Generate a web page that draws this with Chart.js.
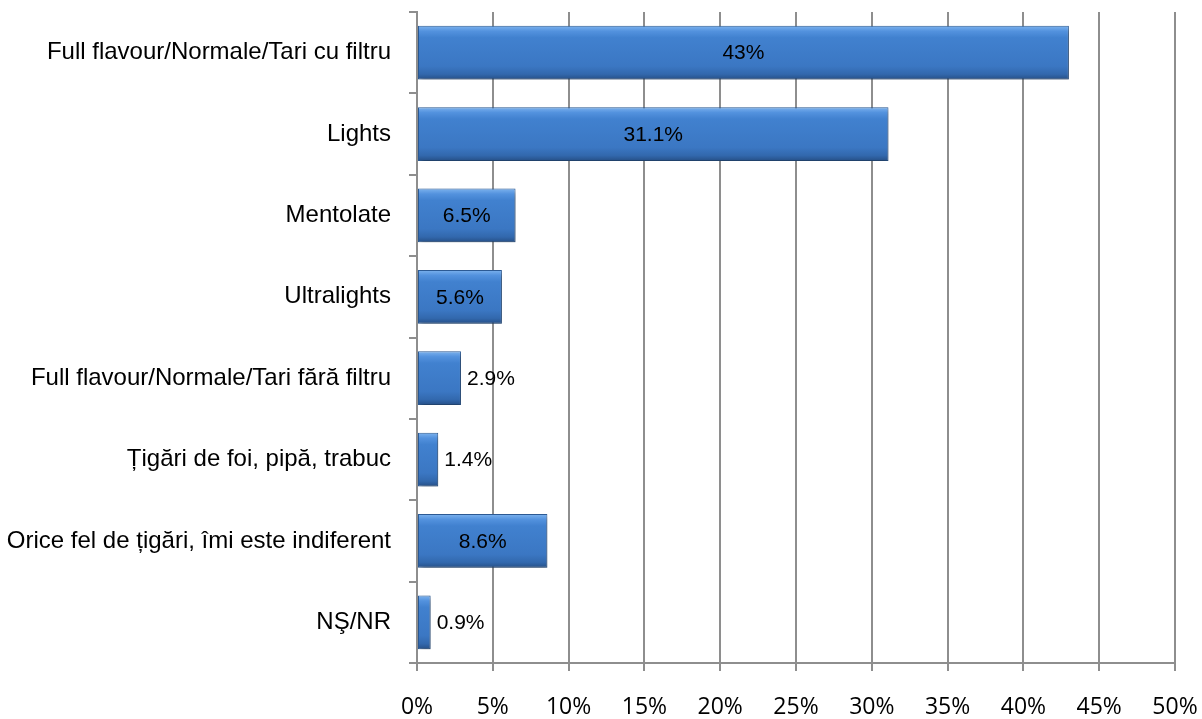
<!DOCTYPE html>
<html>
<head>
<meta charset="utf-8">
<script src="https://cdn.jsdelivr.net/npm/chart.js@4/dist/chart.umd.min.js"></script>
<style>
    html, body { margin:0; padding:0; background:#ffffff; }
    #cutie { width:1202px; height:719px; }
</style>
</head>
<body>
<div id="cutie"><canvas id="grafic"></canvas></div>
<script>

const categorii = [
    "Full flavour/Normale/Tari cu filtru",
    "Lights",
    "Mentolate",
    "Ultralights",
    "Full flavour/Normale/Tari fără filtru",
    "Țigări de foi, pipă, trabuc",
    "Orice fel de țigări, îmi este indiferent",
    "NŞ/NR"
];

const procente = [43, 31.1, 6.5, 5.6, 2.9, 1.4, 8.6, 0.9];

const eticheteValori = ["43%", "31.1%", "6.5%", "5.6%", "2.9%", "1.4%", "8.6%", "0.9%"];

const pragInterior = 5;

const GRI = "#8e8e8e";
const PROCENT_BARA = 0.66;

// gradient vertical pe fiecare bara, din pozitia categoriei pe axa y
function culoareBara(ctx){

    const chart = ctx.chart;
    const y = chart.scales.y;

    if(!y || y.top === undefined){
        return "#3b78c4";
    }

    const pas = (y.bottom - y.top) / categorii.length;
    const centru = y.getPixelForValue(ctx.dataIndex);
    const jum = pas * PROCENT_BARA / 2;

    const g = chart.ctx.createLinearGradient(0, centru - jum, 0, centru + jum);
    g.addColorStop(0, "#7db3ee");
    g.addColorStop(0.1, "#5392de");
    g.addColorStop(0.22, "#4181cf");
    g.addColorStop(0.75, "#3b77c3");
    g.addColorStop(0.9, "#3268ad");
    g.addColorStop(1, "#264f86");
    return g;
}

const umbra = {
    id: "umbra",
    beforeDatasetDraw(chart){
        const c = chart.ctx;
        c.save();
        c.shadowColor = "rgba(0,0,0,0.35)";
        c.shadowBlur = 5;
        c.shadowOffsetX = 2;
        c.shadowOffsetY = 3;
    },
    afterDatasetDraw(chart){
        chart.ctx.restore();
    }
};

const etichete = {
    id: "etichete",
    afterDatasetsDraw(chart){
        const c = chart.ctx;
        const meta = chart.getDatasetMeta(0);
        c.save();
        c.font = "21px 'Liberation Sans', Arial, sans-serif";
        c.fillStyle = "#000000";
        c.textBaseline = "middle";
        meta.data.forEach((bara, i) => {
            if(procente[i] >= pragInterior){
                c.textAlign = "center";
                c.fillText(eticheteValori[i], (bara.x + bara.base) / 2, bara.y + 1);
            } else {
                c.textAlign = "left";
                c.fillText(eticheteValori[i], bara.x + 6, bara.y + 1);
            }
        });
        c.restore();
    }
};

new Chart(
    document.getElementById("grafic"),
    {
        type: "bar",
        data: {
            labels: categorii,
            datasets: [{
                data: procente,
                backgroundColor: culoareBara,
                borderColor: "#2d5c97",
                borderWidth: 1,
                borderSkipped: false,
                barPercentage: PROCENT_BARA,
                categoryPercentage: 1
            }]
        },
        options: {
            indexAxis: "y",
            responsive: true,
            maintainAspectRatio: false,
            animation: false,
            layout: {
                padding: { top: 12, right: 27, left: 0, bottom: 0 }
            },
            plugins: {
                legend: { display: false },
                tooltip: { enabled: false }
            },
            scales: {
                x: {
                    min: 0,
                    max: 50,
                    ticks: {
                        stepSize: 5,
                        callback: v => v + "%",
                        color: "#000000",
                        font: { family: "'Open Sans'", size: 23 },
                        padding: 23,
                        maxRotation: 0
                    },
                    grid: {
                        color: GRI,
                        lineWidth: 2,
                        tickLength: 8,
                        tickColor: GRI
                    },
                    border: { color: GRI, width: 2 },
                    afterFit(scale){
                        scale.height = 56;
                        scale.paddingLeft = 0;
                        scale.paddingRight = 0;
                    }
                },
                y: {
                    offset: true,
                    ticks: {
                        color: "#000000",
                        font: { family: "'Liberation Sans'", size: 24 },
                        padding: 18
                    },
                    grid: {
                        offset: true,
                        drawOnChartArea: false,
                        tickLength: 8,
                        color: GRI,
                        lineWidth: 2
                    },
                    border: { color: GRI, width: 2 },
                    afterFit(scale){
                        scale.width = 417;
                        scale.paddingTop = 0;
                        scale.paddingBottom = 0;
                    }
                }
            }
        },
        plugins: [umbra, etichete]
    }
);

</script>
</body>
</html>
